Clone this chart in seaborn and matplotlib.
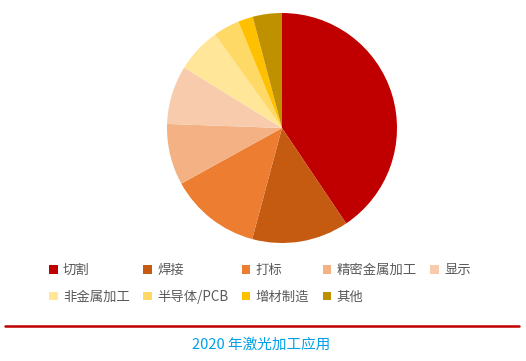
import matplotlib
matplotlib.use('Agg')
import matplotlib.pyplot as plt
import seaborn as sns

# Data (shares in %)
labels = ['切割', '焊接', '打标', '精密金属加工', '显示',
          '非金属加工', '半导体/PCB', '增材制造', '其他']
shares = [40.6, 13.6, 12.8, 8.6, 8.25, 6.3, 3.7, 2.1, 4.1]
colors = ['#C00000', '#C55A11', '#ED7D31', '#F4B183', '#F8CBAD',
          '#FFE699', '#FFD966', '#FFC000', '#BF9000']
title = '2020 年激光加工应用'

sns.set_theme(style='white')
plt.rcParams['font.family'] = ['Noto Sans CJK SC', 'DejaVu Sans']

fig = plt.figure(figsize=(5.26, 3.61), dpi=100)
W, H = 526, 361

# pie axes: center (282,128) px, radius 115 px
cx, cy, r = 282, 128, 115
ax = fig.add_axes([(cx - r) / W, (H - cy - r) / H, 2 * r / W, 2 * r / H])
wedges, _ = ax.pie(shares, colors=colors, startangle=90, counterclock=False,
                   wedgeprops=dict(linewidth=0))
ax.set_xlim(-1, 1)
ax.set_ylim(-1, 1)
ax.set_aspect('equal')
ax.axis('off')

# legend fills column-wise, so reorder to read row-wise like the reference
order = [0, 5, 1, 6, 2, 7, 3, 8, 4]
leg = fig.legend([wedges[i] for i in order], [labels[i] for i in order],
                 ncol=5, loc='upper left',
                 bbox_to_anchor=(49 / W, 1 - 263 / H), frameon=False,
                 fontsize=9.6, handlelength=0.65, handleheight=0.65,
                 handletextpad=0.4, columnspacing=1.0, labelspacing=0.95,
                 borderpad=0, borderaxespad=0)
for t in leg.get_texts():
    t.set_color('#595959')

# red separator line
fig.add_artist(plt.Line2D([5 / W, 519 / W], [1 - 325.5 / H, 1 - 325.5 / H],
                          color='#C00000', linewidth=1.8,
                          transform=fig.transFigure))

fig.text(261 / W, 1 - 345 / H, title, ha='center', va='center',
         fontsize=10.5, color='#00A0E9')

fig.savefig('out.png', dpi=100)
